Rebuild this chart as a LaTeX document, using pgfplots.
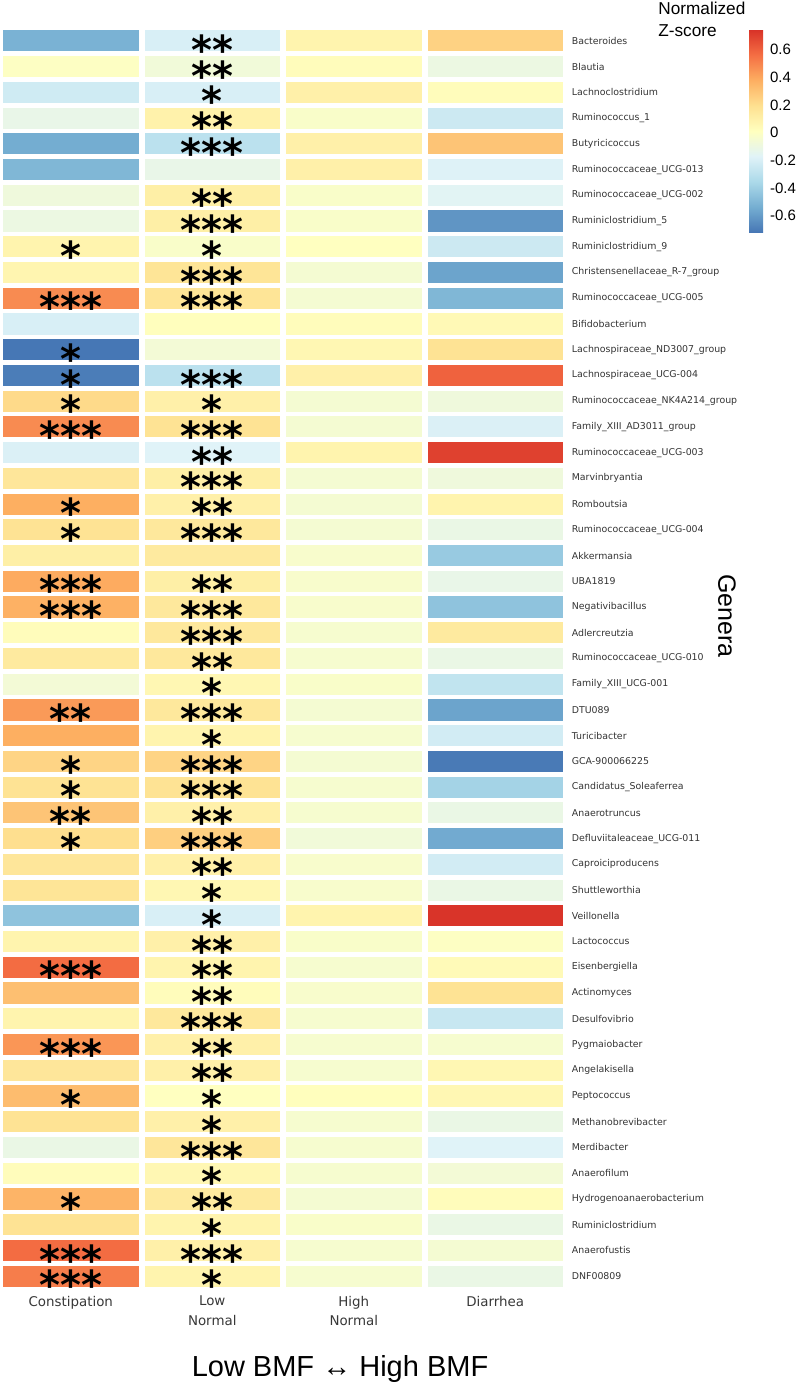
\documentclass[border=0pt]{standalone}
\usepackage{pgfplots}
\pgfplotsset{compat=1.18}
\usepackage{fontspec}
\setmainfont{DejaVu Sans}
\newfontfamily\helv{Liberation Sans}
\newfontfamily\starfont{DejaVu Sans Bold}
\begin{document}
\begin{tikzpicture}
\useasboundingbox (0,-48pt) rectangle (398pt,644.5pt);
\begin{axis}[
 name=main, at={(0,0)}, anchor=south west,
 scale only axis, width=283pt, height=630.5pt,
 xmin=-0.5, xmax=3.5, ymin=-0.5, ymax=48.5, y dir=reverse,
 axis line style={draw=none},
 major tick length=0pt,
 xtick={0,1,2,3},
 xticklabels={Constipation, Low\\Normal, High\\Normal, Diarrhea},
 xticklabel style={align=center, font=\fontsize{6.7}{9.7}\selectfont, text=black!78},
 ytick={0,...,48},
 yticklabels={Bacteroides,Blautia,Lachnoclostridium,Ruminococcus\_1,Butyricicoccus,Ruminococcaceae\_UCG-013,Ruminococcaceae\_UCG-002,Ruminiclostridium\_5,Ruminiclostridium\_9,Christensenellaceae\_R-7\_group,Ruminococcaceae\_UCG-005,Bifidobacterium,Lachnospiraceae\_ND3007\_group,Lachnospiraceae\_UCG-004,Ruminococcaceae\_NK4A214\_group,Family\_XIII\_AD3011\_group,Ruminococcaceae\_UCG-003,Marvinbryantia,Romboutsia,Ruminococcaceae\_UCG-004,Akkermansia,UBA1819,Negativibacillus,Adlercreutzia,Ruminococcaceae\_UCG-010,Family\_XIII\_UCG-001,DTU089,Turicibacter,GCA-900066225,Candidatus\_Soleaferrea,Anaerotruncus,Defluviitaleaceae\_UCG-011,Caproiciproducens,Shuttleworthia,Veillonella,Lactococcus,Eisenbergiella,Actinomyces,Desulfovibrio,Pygmaiobacter,Angelakisella,Peptococcus,Methanobrevibacter,Merdibacter,Anaerofilum,Hydrogenoanaerobacterium,Ruminiclostridium,Anaerofustis,DNF00809},
 yticklabel pos=right,
 yticklabel style={font=\fontsize{4.7}{5.6}\selectfont, text=black!80, xshift=-0.6pt},
 extra x ticks={-0.5,0.5,1.5,2.5,3.5}, extra x tick labels={},
 extra x tick style={grid=major, major grid style={white, line width=3pt}},
 extra y ticks={-0.5,0.5,...,48.5}, extra y tick labels={},
 extra y tick style={grid=major, major grid style={white, line width=2.3pt}},
 axis on top,
 colormap={rdylbu}{rgb255=(69,117,180) rgb255=(116,173,209) rgb255=(171,217,233) rgb255=(224,243,248) rgb255=(255,255,191) rgb255=(254,224,144) rgb255=(253,174,97) rgb255=(244,109,67) rgb255=(215,48,39)},
 point meta min=-0.725, point meta max=0.75,
 colorbar,
 colorbar style={
  at={(parent axis.north east)}, anchor=north west, xshift=83pt, yshift=-0.5pt,
  scale only axis, width=7pt, height=102pt,
  ytick={-0.6,-0.4,-0.2,0,0.2,0.4,0.6},
  yticklabels={-0.6,-0.4,-0.2,0,0.2,0.4,0.6},
  yticklabel style={font=\helv\fontsize{7.5}{9}\selectfont},
  axis line style={draw=none}, major tick length=0pt,
 },
]
\addplot[matrix plot*, mesh/cols=4, point meta=explicit] table[meta=c]{
x y c
0 0 -0.52
1 0 -0.20
2 0 0.08
3 0 0.25
0 1 0.00
1 1 -0.07
2 1 0.03
3 1 -0.10
0 2 -0.23
1 2 -0.20
2 2 0.10
3 2 0.03
0 3 -0.12
1 3 0.09
2 3 -0.02
3 3 -0.24
0 4 -0.54
1 4 -0.30
2 4 0.10
3 4 0.30
0 5 -0.50
1 5 -0.12
2 5 0.10
3 5 -0.18
0 6 -0.08
1 6 0.11
2 6 -0.02
3 6 -0.16
0 7 -0.10
1 7 0.11
2 7 -0.02
3 7 -0.62
0 8 0.08
1 8 -0.02
2 8 0.01
3 8 -0.24
0 9 0.07
1 9 0.17
2 9 -0.05
3 9 -0.57
0 10 0.48
1 10 0.17
2 10 -0.05
3 10 -0.50
0 11 -0.20
1 11 0.02
2 11 0.03
3 11 0.05
0 12 -0.72
1 12 -0.06
2 12 0.06
3 12 0.18
0 13 -0.70
1 13 -0.30
2 13 0.10
3 13 0.60
0 14 0.22
1 14 0.10
2 14 -0.05
3 14 -0.08
0 15 0.48
1 15 0.18
2 15 -0.05
3 15 -0.19
0 16 -0.19
1 16 -0.17
2 16 0.08
3 16 0.70
0 17 0.16
1 17 0.11
2 17 -0.05
3 17 -0.08
0 18 0.38
1 18 0.10
2 18 -0.05
3 18 0.08
0 19 0.18
1 19 0.15
2 19 -0.05
3 19 -0.11
0 20 0.11
1 20 0.14
2 20 -0.03
3 20 -0.42
0 21 0.39
1 21 0.11
2 21 -0.03
3 21 -0.12
0 22 0.37
1 22 0.15
2 22 -0.03
3 22 -0.45
0 23 0.03
1 23 0.15
2 23 -0.04
3 23 0.14
0 24 0.14
1 24 0.15
2 24 -0.04
3 24 -0.11
0 25 -0.06
1 25 0.06
2 25 -0.02
3 25 -0.28
0 26 0.44
1 26 0.15
2 26 -0.05
3 26 -0.57
0 27 0.38
1 27 0.08
2 27 -0.04
3 27 -0.22
0 28 0.24
1 28 0.24
2 28 -0.05
3 28 -0.71
0 29 0.18
1 29 0.18
2 29 -0.04
3 29 -0.38
0 30 0.30
1 30 0.10
2 30 -0.04
3 30 -0.11
0 31 0.20
1 31 0.26
2 31 -0.07
3 31 -0.55
0 32 0.16
1 32 0.10
2 32 -0.03
3 32 -0.22
0 33 0.17
1 33 0.06
2 33 -0.03
3 33 -0.11
0 34 -0.45
1 34 -0.20
2 34 0.08
3 34 0.74
0 35 0.08
1 35 0.10
2 35 -0.02
3 35 0.00
0 36 0.57
1 36 0.08
2 36 -0.04
3 36 0.04
0 37 0.32
1 37 0.03
2 37 -0.03
3 37 0.18
0 38 0.08
1 38 0.15
2 38 -0.04
3 38 -0.26
0 39 0.45
1 39 0.10
2 39 -0.04
3 39 -0.04
0 40 0.16
1 40 0.10
2 40 -0.04
3 40 0.06
0 41 0.33
1 41 0.01
2 41 0.02
3 41 0.06
0 42 0.18
1 42 0.10
2 42 -0.04
3 42 -0.11
0 43 -0.11
1 43 0.16
2 43 -0.04
3 43 -0.17
0 44 0.03
1 44 0.06
2 44 -0.04
3 44 -0.06
0 45 0.36
1 45 0.14
2 45 -0.05
3 45 0.03
0 46 0.18
1 46 0.08
2 46 -0.02
3 46 -0.11
0 47 0.57
1 47 0.10
2 47 -0.04
3 47 -0.05
0 48 0.52
1 48 0.08
2 48 -0.04
3 48 -0.11
};
\addplot[draw=none, nodes near coords, point meta=explicit symbolic,
 nodes near coords style={anchor=base, yshift=-11.8pt, inner sep=0pt, font=\starfont\fontsize{20}{20}\selectfont, text=black}]
 table[meta=s]{
x y s
1 0 **
1 1 **
1 2 *
1 3 **
1 4 ***
1 6 **
1 7 ***
0 8 *
1 8 *
1 9 ***
0 10 ***
1 10 ***
0 12 *
0 13 *
1 13 ***
0 14 *
1 14 *
0 15 ***
1 15 ***
1 16 **
1 17 ***
0 18 *
1 18 **
0 19 *
1 19 ***
0 21 ***
1 21 **
0 22 ***
1 22 ***
1 23 ***
1 24 **
1 25 *
0 26 **
1 26 ***
1 27 *
0 28 *
1 28 ***
0 29 *
1 29 ***
0 30 **
1 30 **
0 31 *
1 31 ***
1 32 **
1 33 *
1 34 *
1 35 **
0 36 ***
1 36 **
1 37 **
1 38 ***
0 39 ***
1 39 **
1 40 **
0 41 *
1 41 *
1 42 *
1 43 ***
1 44 *
0 45 *
1 45 **
1 46 *
0 47 ***
1 47 ***
0 48 ***
1 48 *
};
\end{axis}
\node[anchor=base west, inner sep=0pt, font=\helv\fontsize{8.6}{10}\selectfont] at (329pt,637pt) {Normalized};
\node[anchor=base west, inner sep=0pt, font=\helv\fontsize{8.6}{10}\selectfont] at (329pt,626pt) {Z-score};
\node[rotate=-90, inner sep=0pt, font=\helv\fontsize{12.5}{14}\selectfont] at (363.5pt,336.5pt) {Genera};
\node[anchor=base, inner sep=0pt, font=\helv\fontsize{14.5}{16}\selectfont] at (170pt,-43.5pt) {Low BMF ↔ High BMF};
\end{tikzpicture}
\end{document}
